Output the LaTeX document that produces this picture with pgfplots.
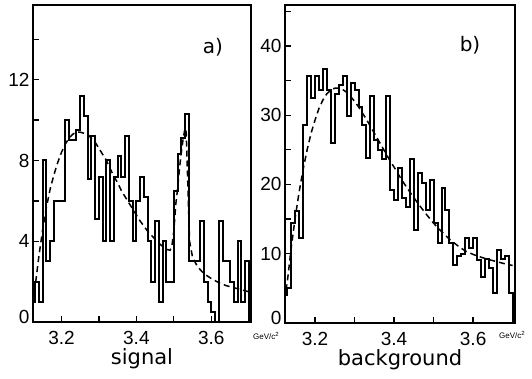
\documentclass[border=0pt]{standalone}
\usepackage{fontspec}
\setmainfont{Liberation Sans}
\newfontfamily\labelfont{DejaVu Sans}
\usepackage{pgfplots}
\pgfplotsset{compat=1.18}
\usepackage{pgfplotstable}
\pgfplotstableread{
x y
3.12 1
3.13 2
3.14 1
3.15 8
3.16 3
3.17 4
3.18 6
3.19 6
3.20 6
3.21 10
3.22 9
3.23 9
3.24 9.5
3.25 11.2
3.26 10.2
3.27 7.1
3.28 9.2
3.29 5.1
3.30 7.2
3.31 4
3.32 8
3.33 4
3.34 7.2
3.35 8.2
3.36 7.2
3.37 9.2
3.38 6
3.39 4
3.40 6
3.41 7.2
3.42 6.2
3.43 4
3.44 2
3.45 5
3.46 1
3.47 4
3.48 2
3.49 2
3.50 6.5
3.51 8.3
3.52 9.1
3.53 10.3
3.54 3
3.55 3
3.56 3
3.57 5
3.58 2
3.59 1
3.60 0.5
3.61 0
3.62 5
3.63 3
3.64 3
3.65 2
3.66 1
3.67 4
3.68 1
3.69 3
3.70 0
}\signal
\pgfplotstableread{
x y
3.12 4
3.13 5
3.14 14.4
3.15 16.2
3.16 12.3
3.17 28.6
3.18 35.6
3.19 32.5
3.20 35.6
3.21 33.7
3.22 36.6
3.23 33.7
3.24 26
3.25 33
3.26 34.4
3.27 35.7
3.28 29.9
3.29 34.7
3.30 33.7
3.31 31.2
3.32 28.6
3.33 23.8
3.34 32.7
3.35 26.4
3.36 25
3.37 23.6
3.38 32.7
3.39 19.2
3.40 17.8
3.41 22.4
3.42 18
3.43 16.8
3.44 23.6
3.45 13.4
3.46 21.6
3.47 20.2
3.48 16.3
3.49 20.7
3.50 14.4
3.51 11.5
3.52 19.5
3.53 16.3
3.54 11.5
3.55 8.4
3.56 9.6
3.57 10
3.58 12.2
3.59 10.8
3.60 12.2
3.61 9.1
3.62 6.7
3.63 9.3
3.64 8
3.65 4.3
3.66 10.5
3.67 9.3
3.68 9.6
3.69 4.3
3.70 0
}\background
\pgfplotstableread{
x y
3.124 1.0
3.13 1.8
3.14 3.3
3.15 4.6
3.16 5.7
3.17 6.6
3.18 7.3
3.19 7.9
3.20 8.4
3.21 8.8
3.22 9.1
3.23 9.3
3.24 9.4
3.25 9.4
3.26 9.35
3.27 9.3
3.28 9.1
3.29 8.9
3.30 8.6
3.31 8.3
3.32 8.0
3.33 7.6
3.34 7.2
3.35 6.9
3.36 6.5
3.37 6.2
3.38 5.9
3.39 5.6
3.40 5.3
3.41 5.0
3.42 4.75
3.43 4.5
3.44 4.3
3.45 4.1
3.46 3.9
3.47 3.75
3.48 3.6
3.49 3.55
3.495 3.8
3.50 4.5
3.505 5.8
3.51 6.6
3.515 7.6
3.52 8.4
3.525 9.1
3.53 9.6
3.533 9.4
3.537 7.0
3.542 4.0
3.55 3.2
3.56 2.85
3.57 2.6
3.58 2.4
3.60 2.15
3.62 1.95
3.64 1.8
3.66 1.7
3.68 1.6
3.70 1.5
}\signalfit
\pgfplotstableread{
x y
3.122 3.3
3.13 6.0
3.14 11.0
3.15 15.3
3.16 19.0
3.17 22.2
3.18 25.0
3.19 27.4
3.20 29.3
3.21 31.0
3.22 32.2
3.23 33.1
3.24 33.6
3.25 33.9
3.26 33.9
3.27 33.7
3.28 33.3
3.29 32.7
3.30 32.0
3.31 31.2
3.32 30.3
3.33 29.4
3.34 28.4
3.35 27.4
3.36 26.4
3.37 25.4
3.38 24.4
3.39 23.4
3.40 22.5
3.42 20.6
3.44 18.9
3.46 17.3
3.48 15.8
3.50 14.4
3.52 13.2
3.54 12.1
3.56 11.2
3.58 10.4
3.60 9.9
3.62 9.5
3.64 9.15
3.66 8.85
3.68 8.55
3.70 8.3
}\backgroundfit
\begin{document}
\begin{tikzpicture}
\useasboundingbox (0pt,0pt) rectangle (532pt,378pt);
\pgfplotsset{
  mystyle/.style={
    scale only axis,
    axis line style={line width=1.8pt},
    tick align=inside, xtick pos=left, ytick pos=left,
    major tick length=6pt, minor tick length=6pt,
    every tick/.style={line width=1.3pt, black},
    xmin=3.124, xmax=3.706,
    xtick={3.2,3.4,3.6}, xticklabels={3.2,3.4,3.6}, minor xtick={3.3,3.5},
    xticklabel style={font=\fontsize{19}{19}\selectfont, yshift=-6pt},
    yticklabel style={font=\fontsize{19}{19}\selectfont},
    /pgf/number format/assume math mode=true,
    extra y ticks={0}, extra y tick labels={0},
    extra y tick style={yticklabel style={yshift=5pt}},
    xlabel style={font=\labelfont\fontsize{21}{21}\selectfont, at={(axis description cs:0.5,0)}, anchor=center, yshift=-37pt},
    clip=true,
  },
  histo/.style={const plot, black, line width=2pt, mark=none},
  fit/.style={black, line width=1.5pt, dash pattern=on 6pt off 4pt, mark=none},
}
\begin{axis}[mystyle, at={(33pt,56pt)}, anchor=south west, width=218pt, height=317pt,
  ymin=0, ymax=15.7, ytick={4,8,12}, minor ytick={2,6,10,14},
  xlabel={signal}]
\addplot[histo] table[x=x,y=y] {\signal};
\addplot[fit] table[x=x,y=y] {\signalfit};
\end{axis}
\begin{axis}[mystyle, at={(285pt,55pt)}, anchor=south west, width=230pt, height=318pt,
  ymin=0, ymax=45.9, ytick={10,20,30,40}, minor ytick={5,15,25,35,45},
  xlabel={background}]
\addplot[histo] table[x=x,y=y] {\background};
\addplot[fit] table[x=x,y=y] {\backgroundfit};
\end{axis}
\node[font=\labelfont\fontsize{20}{20}\selectfont] at (213pt,331pt) {a)};
\node[font=\labelfont\fontsize{20}{20}\selectfont] at (470pt,333pt) {b)};
\node[font=\fontsize{8}{8}\selectfont, anchor=west, inner sep=0pt] at (253pt,42pt) {GeV/c\textsuperscript{2}};
\node[font=\fontsize{8}{8}\selectfont, anchor=west, inner sep=0pt] at (499pt,43pt) {GeV/c\textsuperscript{2}};
\end{tikzpicture}
\end{document}
